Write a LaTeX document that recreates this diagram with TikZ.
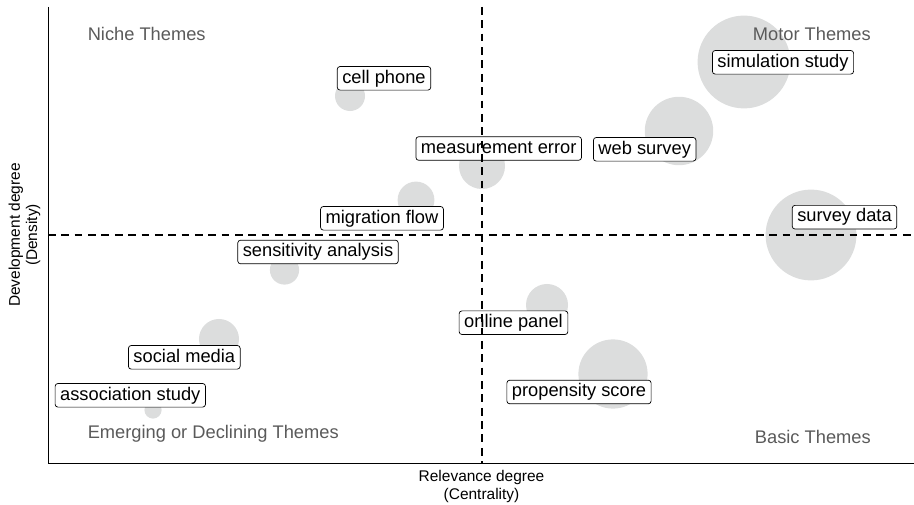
\documentclass[tikz,border=0pt]{standalone}
\usepackage{fontspec}
\setmainfont{Liberation Sans}

\definecolor{bubblegray}{RGB}{220,221,221}
\definecolor{themegray}{RGB}{90,90,90}

\tikzset{
	bubble/.style={circle, fill=bubblegray, inner sep=0pt},
	themebox/.style={draw=black, fill=white, rounded corners=2pt, line width=0.5pt,
		inner xsep=3.6pt, inner ysep=2.2pt, text height=9.6pt, text depth=2.8pt,
		font=\fontsize{13}{15}\selectfont},
	quadrant/.style={text=themegray, font=\fontsize{13}{15}\selectfont, inner sep=0pt},
	axislabel/.style={align=center, font=\fontsize{11}{12.2}\selectfont, inner sep=0pt},
	meanline/.style={line width=0.8pt, dash pattern=on 5.5pt off 4pt}
}

\begin{document}
\begin{tikzpicture}
		[
		x=0.025cm, y=-0.025cm
		%Pixelraster 914 x 505, y nach unten
		]
		
		\useasboundingbox (0,0) rectangle (914,505);
		
		%Kreise (Groesse ~ Anzahl Dokumente)
		\node[bubble, minimum size=0.75cm] (cellC) at (350,96) {};
		\node[bubble, minimum size=0.92cm] (migrC) at (416,200) {};
		\node[bubble, minimum size=1.15cm] (measC) at (482,166) {};
		\node[bubble, minimum size=1.71cm] (webC) at (679,131) {};
		\node[bubble, minimum size=2.32cm] (simC) at (744,62) {};
		\node[bubble, minimum size=2.27cm] (surC) at (811,235) {};
		\node[bubble, minimum size=0.73cm] (sensC) at (284.5,270) {};
		\node[bubble, minimum size=1.0cm] (socC) at (219,339) {};
		\node[bubble, minimum size=0.43cm] (assC) at (153,410) {};
		\node[bubble, minimum size=1.05cm] (onlC) at (547,305) {};
		\node[bubble, minimum size=1.73cm] (propC) at (613,374) {};
		
		%Beschriftungen der Themen
		\node[themebox] (cell) at (384,78.3) {cell phone};
		\node[themebox] (migr) at (382,218.3) {migration flow};
		\node[themebox] (meas) at (498.7,148.5) {measurement error};
		\node[themebox] (web) at (644.7,149.3) {web survey};
		\node[themebox] (sim) at (783,62.3) {simulation study};
		\node[themebox] (sur) at (844.5,217.2) {survey data};
		\node[themebox] (sens) at (318,252) {sensitivity analysis};
		\node[themebox] (soc) at (184.3,357.3) {social media};
		\node[themebox] (ass) at (130.3,395.3) {association study};
		\node[themebox] (onl) at (513.5,322.7) {online panel};
		\node[themebox] (prop) at (579,392) {propensity score};
		
		%Mittelwertlinien
		\draw[meanline] (482,7) -- (482,463.5);
		\draw[meanline] (48,235) -- (914,235);
		
		%Achsen
		\draw[line width=0.7pt] (48,7) -- (48,463.5) -- (914,463.5);
		
		%Achsenbeschriftung
		\node[axislabel] (xlab) at (481.5,486.5) {Relevance degree\\(Centrality)};
		\node[axislabel, rotate=90] (ylab) at (24.5,235) {Development degree\\(Density)};
		
		%Quadranten
		\node[quadrant, anchor=west] (niche) at (87.5,34) {Niche Themes};
		\node[quadrant, anchor=east] (motor) at (871,34) {Motor Themes};
		\node[quadrant, anchor=west] (emerg) at (87.5,434) {Emerging or Declining Themes};
		\node[quadrant, anchor=east] (basic) at (871,437) {Basic Themes};
		
	\end{tikzpicture}
\end{document}
